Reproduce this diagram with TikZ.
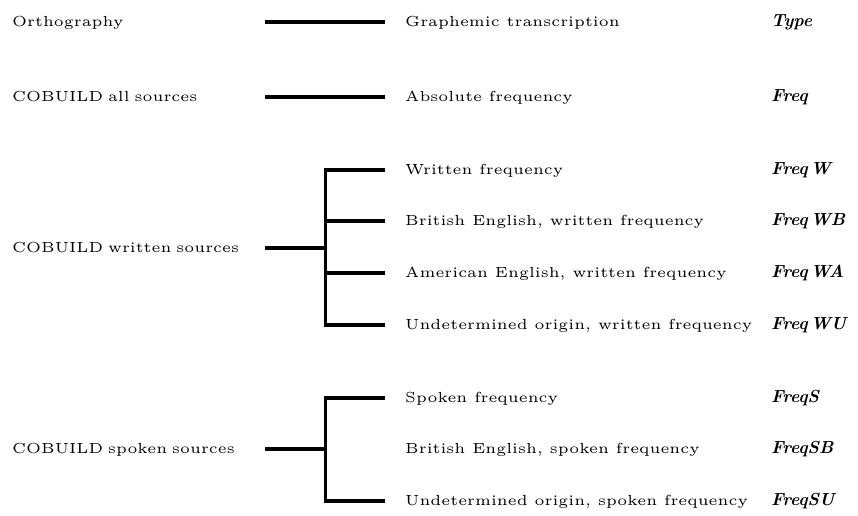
\documentclass[tikz,border=0pt]{standalone}
\usepackage{fontspec}
\newfontfamily\widerm{lmroman5-regular.otf}
\usetikzlibrary{positioning,calc}
\tikzset{
  src/.style={anchor=west, inner sep=0pt, text width=253pt, align=left,
              text height=12pt, text depth=3pt, font=\widerm\fontsize{14.6}{17}\selectfont},
  dsc/.style={anchor=west, inner sep=0pt, text height=12pt, text depth=3pt,
              font=\widerm\fontsize{14.6}{17}\selectfont},
  var/.style={anchor=west, inner sep=0pt, text height=12pt, text depth=3pt,
              font=\fontsize{17.5}{19}\selectfont\bfseries\itshape\addfontfeatures{LetterSpace=10}},
  link/.style={line width=3.2pt}
}
\begin{document}
\begin{tikzpicture}[x=1pt, y=-1pt]
\useasboundingbox (0,0) rectangle (858,515);
% sources
\node[src] (orth) at (12,22) {Orthography};
\node[src] (all) at (12,97) {COBUILD all sources};
\node[src] (wsrc) at (12,248) {COBUILD written sources};
\node[src] (ssrc) at (12,449) {COBUILD spoken sources};
% descriptions
\node[dsc] (gra) at (405,22) {Graphemic transcription};
\node[dsc] (abs) at (405,97) {Absolute frequency};
\node[dsc] (w1) at (405,170) {Written frequency};
\node[dsc] (w2) at (405,221) {British English, written frequency};
\node[dsc] (w3) at (405,273) {American English, written frequency};
\node[dsc] (w4) at (405,325) {Undetermined origin, written frequency};
\node[dsc] (s1) at (405,398) {Spoken frequency};
\node[dsc] (s2) at (405,449) {British English, spoken frequency};
\node[dsc] (s3) at (405,501) {Undetermined origin, spoken frequency};
% variable names
\node[var] (vtype) at (771,22) {Type};
\node[var] (vfreq) at (771,97) {Freq};
\node[var] (vw) at (771,170) {Freq\,W};
\node[var] (vwb) at (771,221) {Freq\,WB};
\node[var] (vwa) at (771,273) {Freq\,WA};
\node[var] (vwu) at (771,325) {Freq\,WU};
\node[var] (vs) at (771,398) {FreqS};
\node[var] (vsb) at (771,449) {FreqSB};
\node[var] (vsu) at (771,501) {FreqSU};
% links
\draw[link] (orth.east) -- ([xshift=-20pt]gra.west);
\draw[link] (all.east) -- ([xshift=-20pt]abs.west);
\coordinate (wj) at ($(wsrc.east)+(60,0)$);
\draw[link] (wsrc.east) -- (wj);
\draw[link] ([xshift=-20pt]w1.west) -| (wj |- w4.west) -- ([xshift=-20pt]w4.west);
\foreach \n in {w2,w3}
  \draw[link] (wj |- \n.west) -- ([xshift=-20pt]\n.west);
\coordinate (sj) at ($(ssrc.east)+(60,0)$);
\draw[link] (ssrc.east) -- (sj);
\draw[link] ([xshift=-20pt]s1.west) -| (sj |- s3.west) -- ([xshift=-20pt]s3.west);
\end{tikzpicture}
\end{document}
